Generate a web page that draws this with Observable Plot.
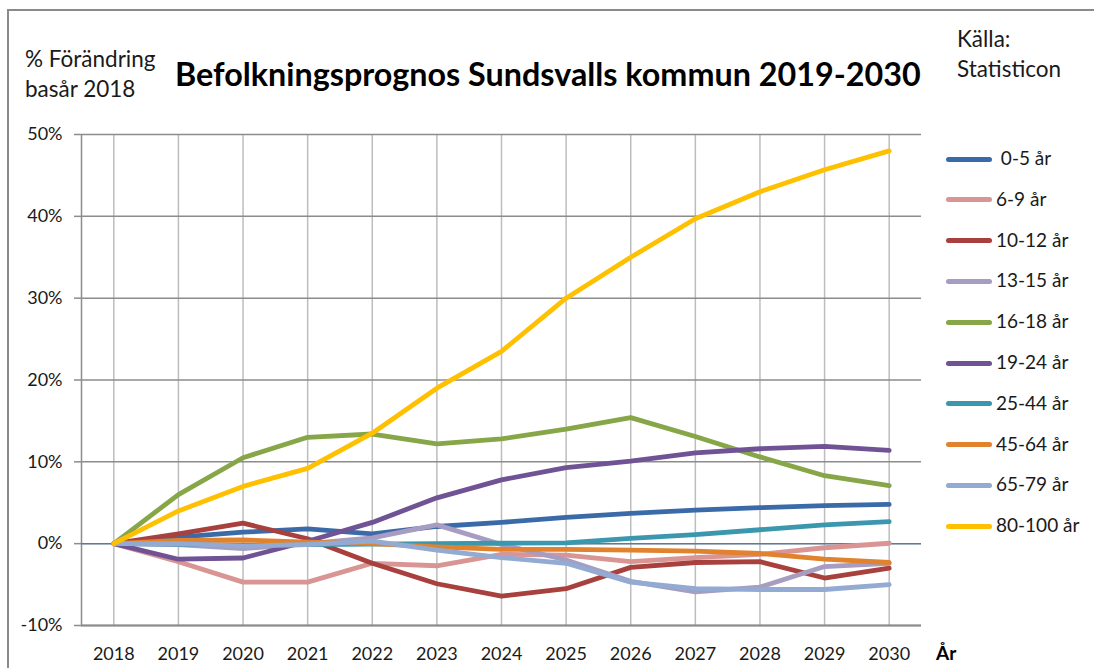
<!DOCTYPE html>
<html>
<head>
<meta charset="utf-8">
<script src="https://cdn.jsdelivr.net/npm/d3@7"></script>
<script src="https://cdn.jsdelivr.net/npm/@observablehq/plot@0.6"></script>
<style>
  body { margin: 0; background: #fff; }
  #wrap { position: relative; width: 1094px; height: 668px; overflow: hidden; font-family: Lato, "Open Sans", sans-serif; color: #1a1a1a; }
  #frame { position: absolute; left: 7px; top: 9px; width: 1200px; height: 800px; border: 2px solid #8a8a8a; box-sizing: border-box; }
  .t { position: absolute; white-space: nowrap; line-height: 1; }
  #chart { position: absolute; left: 0; top: 120px; }
  .leg { position: absolute; left: 946px; font-size: 19px; white-space: nowrap; }
  .leg span.sw { display: inline-block; width: 46px; height: 5px; border-radius: 3px; vertical-align: middle; margin-right: 4px; position: relative; top: -1px; }
</style>
</head>
<body>
<div id="wrap">
  <div id="frame"></div>
  <div class="t" style="left:25px;top:48px;font-size:22.5px;">% Förändring</div>
  <div class="t" style="left:25px;top:78px;font-size:22.5px;">basår 2018</div>
  <div class="t" id="title" style="left:175px;top:58px;font-size:32.3px;font-weight:bold;color:#000;">Befolkningsprognos Sundsvalls kommun 2019-2030</div>
  <div class="t" style="left:957px;top:28px;font-size:22.5px;">Källa:</div>
  <div class="t" style="left:957px;top:58px;font-size:22.5px;">Statisticon</div>
  <div class="t" style="left:936px;top:643px;font-size:19px;font-weight:bold;color:#000;">År</div>
  <div id="chart"></div>
  <div id="legend"></div>
</div>
<script>
const years = [2018, 2019, 2020, 2021, 2022, 2023, 2024, 2025, 2026, 2027, 2028, 2029, 2030];
const ageGroups = ["0-5 år", "6-9 år", "10-12 år", "13-15 år", "16-18 år", "19-24 år", "25-44 år", "45-64 år", "65-79 år", "80-100 år"];
const groupColors = ["#3b6aa8", "#d99593", "#a8403d", "#a79cc2", "#86a648", "#6f5395", "#3b97ae", "#e0822e", "#93aad2", "#ffc000"];
const yTicks = [-10, 0, 10, 20, 30, 40, 50];

const v0_5    = [0, 0.8, 1.4, 1.8, 1.2, 2.1, 2.6, 3.2, 3.7, 4.1, 4.4, 4.65, 4.8];
const v6_9    = [0, -2.2, -4.7, -4.7, -2.4, -2.7, -1.3, -1.4, -2.2, -1.7, -1.3, -0.5, 0.05];
const v10_12  = [0, 1.2, 2.5, 0.6, -2.4, -4.9, -6.4, -5.5, -2.9, -2.3, -2.2, -4.2, -3.0];
const v13_15  = [0, -0.1, -0.6, 0.0, 0.7, 2.3, -0.1, -2.0, -4.6, -5.9, -5.3, -2.8, -2.4];
const v16_18  = [0, 6.0, 10.5, 13.0, 13.4, 12.2, 12.8, 14.0, 15.4, 13.1, 10.6, 8.3, 7.1];
const v19_24  = [0, -1.9, -1.75, 0.3, 2.6, 5.6, 7.8, 9.3, 10.1, 11.1, 11.6, 11.9, 11.4];
const v25_44  = [0, -0.05, -0.2, -0.1, -0.05, 0.0, 0.05, 0.1, 0.65, 1.1, 1.7, 2.3, 2.7];
const v45_64  = [0, 0.4, 0.45, 0.2, 0.0, -0.4, -0.7, -0.7, -0.8, -0.9, -1.2, -1.9, -2.3];
const v65_79  = [0, 0.0, -0.3, -0.1, 0.3, -0.8, -1.7, -2.4, -4.7, -5.5, -5.6, -5.6, -5.0];
const v80_100 = [0, 4.0, 7.0, 9.2, 13.5, 19.0, 23.5, 30.0, 35.0, 39.7, 43.0, 45.7, 48.0];

const seriesValues = [v0_5, v6_9, v10_12, v13_15, v16_18, v19_24, v25_44, v45_64, v65_79, v80_100];
const data = [];
ageGroups.forEach((g, i) => years.forEach((y, j) => data.push({group: g, year: y, value: seriesValues[i][j]})));

const chart = Plot.plot({
  width: 1094,
  height: 548,
  marginLeft: 81,
  marginRight: 173,
  marginTop: 14,
  marginBottom: 43,
  style: {fontFamily: "Lato, 'Open Sans', sans-serif", fontSize: "18px", color: "#1a1a1a", background: "transparent"},
  x: {type: "linear", domain: [2017.5, 2030.5]},
  y: {domain: [-10, 50]},
  color: {domain: ageGroups, range: groupColors},
  marks: [
    Plot.ruleX(years, {x: d => d, y1: -10, y2: 50, stroke: "#bdbdbd", strokeWidth: 1.5}),
    Plot.ruleY(yTicks, {y: d => d, x1: 2017.5, x2: 2030.5, stroke: "#8c8c8c", strokeWidth: 1.5}),
    Plot.ruleX([2017.5], {y1: -10, y2: 50, stroke: "#8c8c8c", strokeWidth: 1.5}),
    Plot.ruleY([-10], {x1: 2017.5, x2: 2030.5, stroke: "#8c8c8c", strokeWidth: 2}),
    Plot.ruleY([0], {x1: 2017.5, x2: 2030.5, stroke: "#4a7ebb", strokeWidth: 1.3}),
    Plot.line(data, {x: "year", y: "value", z: "group", stroke: "group", strokeWidth: 4.8, strokeLinejoin: "round", strokeLinecap: "round"}),
    Plot.axisY({ticks: yTicks, tickFormat: d => d + "%", tickSize: 7, tickPadding: 12, stroke: "#8c8c8c", strokeWidth: 1.5, label: null}),
    Plot.axisX({ticks: years, tickFormat: d => String(d), tickSize: 0, tickPadding: 22, label: null})
  ]
});
document.getElementById("chart").appendChild(chart);

const legend = document.getElementById("legend");
ageGroups.forEach((g, i) => {
  const row = document.createElement("div");
  row.className = "leg";
  row.style.top = (146 + i * 40.8) + "px";
  const sw = document.createElement("span");
  sw.className = "sw";
  sw.style.background = groupColors[i];
  row.appendChild(sw);
  row.appendChild(document.createTextNode((i === 0 ? "\u00a0" : "") + g));
  legend.appendChild(row);
});
</script>
</body>
</html>
